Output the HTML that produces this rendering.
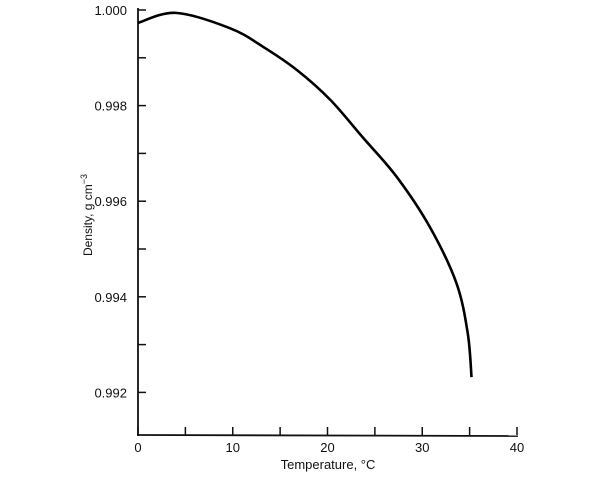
<!DOCTYPE html>
<html><head><meta charset="utf-8"><style>
body{margin:0;background:#fff;}
svg text{font-family:"Liberation Sans",sans-serif;fill:#111;}
</style></head><body>
<svg width="600" height="475" viewBox="0 0 600 475" id="chart">
</svg>
<script>
const temps=[0,4,9.7,13.2,16.8,20.3,23.7,27.3,30.8,33.6,34.8,35.2];
const densities=[0.99973,0.99994,0.99962,0.99923,0.99874,0.99812,0.99734,0.99651,0.99546,0.99429,0.99324,0.99232];
const xTicks=[0,10,20,30,40];
const xMinor=[5,15,25,35];
const yTicks=[1.000,0.998,0.996,0.994,0.992];
const yMinor=[0.999,0.997,0.995,0.993];
const yTickLabels=["1.000","0.998","0.996","0.994","0.992"];
const NS="http://www.w3.org/2000/svg";
const svg=document.getElementById('chart');
function X(t){return 138+t*(517-138)/40;}
function Y(d){return 10+(1-d)/0.001*47.8;}
function mk(tag,attrs,parent){const e=document.createElementNS(NS,tag);for(const k in attrs)e.setAttribute(k,attrs[k]);(parent||svg).appendChild(e);return e;}
const axY=mk('line',{x1:138,y1:8,x2:138,y2:436,stroke:'#111','stroke-width':1.8});


const axX=mk('line',{x1:137,y1:435,x2:518,y2:436,stroke:'#111','stroke-width':1.8});


xTicks.concat(xMinor).forEach(t=>{const l=mk('line',{x1:X(t),y1:435,x2:X(t),y2:427,stroke:'#111','stroke-width':1.5});

});
xTicks.forEach(t=>{const tx=mk('text',{x:X(t),y:452,'text-anchor':'middle','font-size':13});tx.textContent=t;

});
yTicks.concat(yMinor).forEach(v=>{const l=mk('line',{x1:138,y1:Y(v),x2:146,y2:Y(v),stroke:'#111','stroke-width':1.5});

});
yTicks.forEach((v,i)=>{const tx=mk('text',{x:127,y:Y(v)+5,'text-anchor':'end','font-size':13});tx.textContent=yTickLabels[i];

});
// curve via Catmull-Rom
const P=temps.map((t,i)=>[X(t),Y(densities[i])]);
let d='M'+P[0][0]+','+P[0][1];
for(let i=0;i<P.length-1;i++){const p0=P[Math.max(0,i-1)],p1=P[i],p2=P[i+1],p3=P[Math.min(P.length-1,i+2)];
const c1=[p1[0]+(p2[0]-p0[0])/6,p1[1]+(p2[1]-p0[1])/6],c2=[p2[0]-(p3[0]-p1[0])/6,p2[1]-(p3[1]-p1[1])/6];
d+=' C'+c1+' '+c2+' '+p2;}
const path=mk('path',{d:d,fill:'none',stroke:'#000','stroke-width':2.6});


const xl=mk('text',{x:328,y:469,'text-anchor':'middle','font-size':13});xl.textContent='Temperature, °C';


const yl=mk('text',{x:0,y:0,'text-anchor':'middle','font-size':12,transform:'translate(92,215) rotate(-90)'});
yl.innerHTML='Density, g cm<tspan dy="-5" font-size="9">−3</tspan>';


</script>
</body></html>
